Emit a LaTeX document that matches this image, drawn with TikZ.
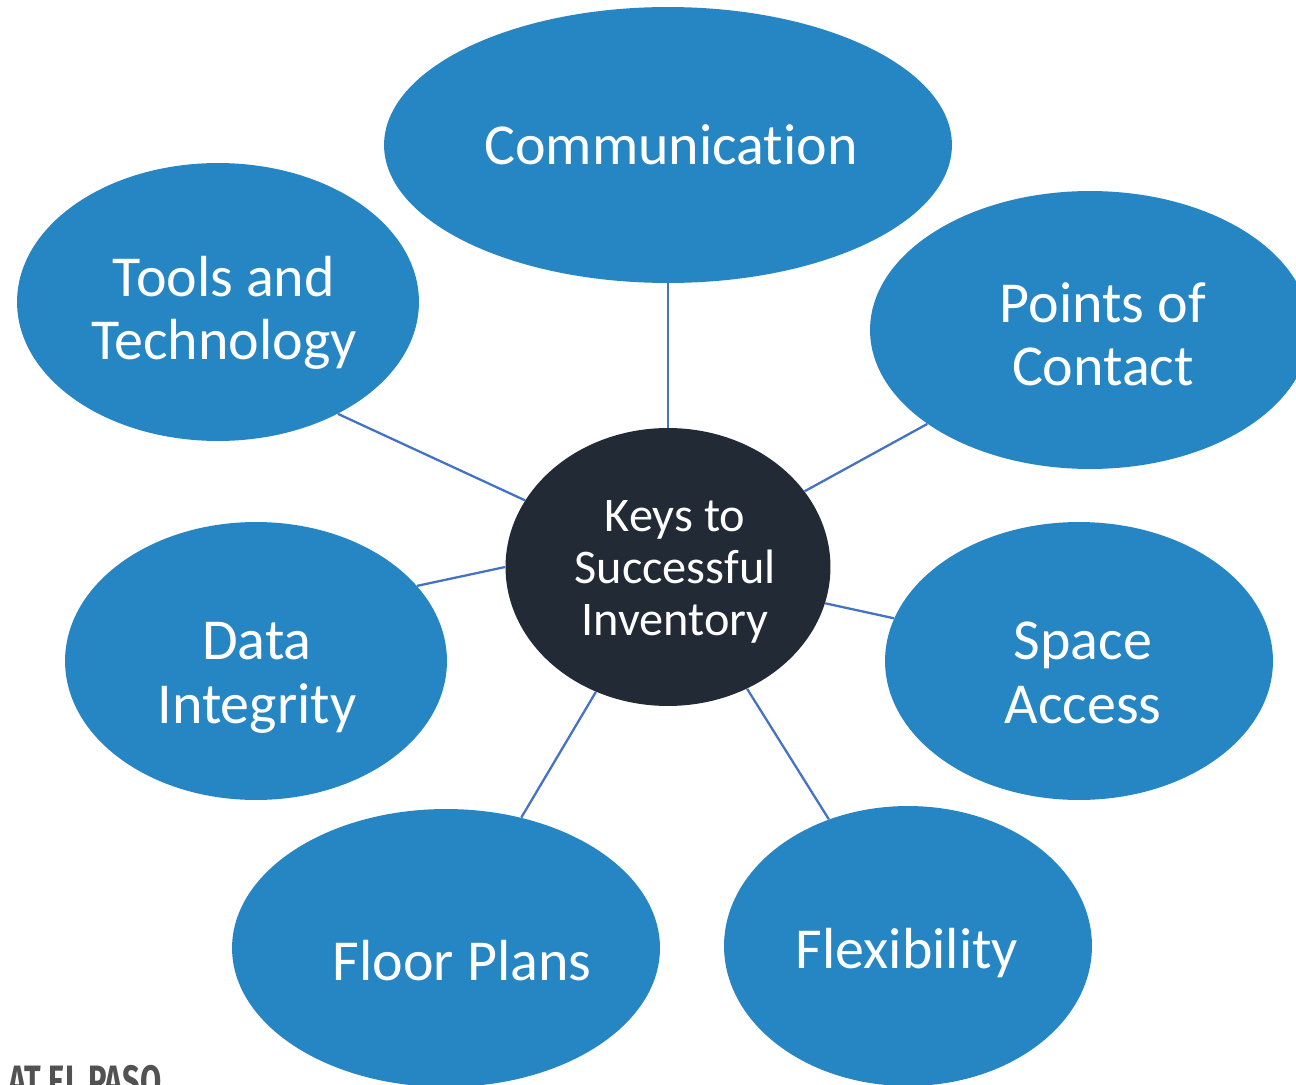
\documentclass[tikz,border=0pt]{standalone}
\usepackage{fontspec}
\setmainfont[Ligatures=NoCommon]{Carlito}
\newfontfamily\logofont[FakeStretch=0.7]{Fira Sans}
\usetikzlibrary{shapes.geometric}
\definecolor{keyblue}{HTML}{2686C4}
\definecolor{keydark}{HTML}{222A35}
\definecolor{linkblue}{HTML}{4472C4}
\begin{document}
\begin{tikzpicture}[x=0.02cm,y=-0.02cm,
		key/.style={ellipse,fill=keyblue,inner sep=0pt},
		keytext/.style={text=white,inner sep=0pt,align=center,
			font=\fontsize{33}{36}\selectfont},
		hub/.style={ellipse,fill=keydark,inner sep=0pt,
			minimum width=6.5cm,minimum height=5.56cm},
		hubtext/.style={text=white,inner sep=0pt,align=center,
			font=\fontsize{27.5}{29.5}\selectfont},
		link/.style={draw=linkblue,line width=1.3pt}]
	
	\useasboundingbox (0,0) rectangle (1296,1085);
	
	% centre
	\node[hub] (Keys) at (668,567) {};
	\node[hubtext] (Keys text) at (675,572) {Keys to\\Successful\\Inventory};
	
	% the seven keys around it
	\node[key,minimum width=11.36cm,minimum height=5.52cm] (Comm) at (668,145) {};
	\node[key,minimum width=8.04cm,minimum height=5.56cm] (Tools) at (218,302) {};
	\node[key,minimum width=8.8cm,minimum height=5.56cm] (Contact) at (1090,330) {};
	\node[key,minimum width=7.64cm,minimum height=5.56cm] (Data) at (256,661) {};
	\node[key,minimum width=7.76cm,minimum height=5.56cm] (Space) at (1079,661) {};
	\node[key,minimum width=8.56cm,minimum height=5.56cm] (Floor) at (446,948) {};
	\node[key,minimum width=7.36cm,minimum height=5.6cm] (Flex) at (908,946) {};
	
	\node[keytext] (Comm text) at (671,145) {Communication};
	\node[keytext] (Tools text) at (224,313) {Tools and\\Technology};
	\node[keytext] (Contact text) at (1103,334) {Points of\\Contact};
	\node[keytext] (Data text) at (257,678) {Data\\Integrity};
	\node[keytext] (Space text) at (1083,673) {Space\\Access};
	\node[keytext] (Floor text) at (462,961) {Floor Plans};
	\node[keytext] (Flex text) at (907,953) {Flexibility};
	
	% spokes
	\draw[link] (Keys.90) -- (Comm.270);
	\draw[link] (Keys.155) -- (Tools.-43);
	\draw[link] (Keys.29) -- (Contact.-150);
	\draw[link] (Keys.180) -- (Data.25);
	\draw[link] (Keys.-13) -- (Space.167);
	\draw[link] (Keys.-120) -- (Floor.60);
	\draw[link] (Keys.-57) -- (Flex.122);
	
	% logo text cut by the page edge
	\node[anchor=base west,inner sep=0pt,text=black!68,font=\logofont\bfseries\fontsize{25}{25}\selectfont] (Logo) at (8,1096) {AT EL PASO};
	
\end{tikzpicture}
\end{document}
